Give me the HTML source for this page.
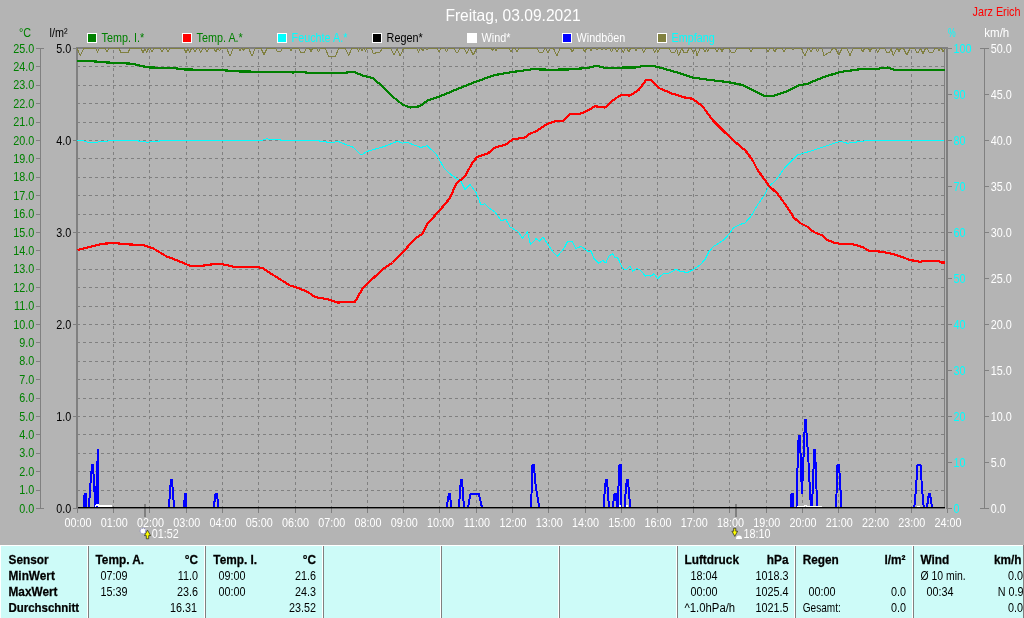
<!DOCTYPE html>
<html lang="de"><head><meta charset="utf-8"><title>Freitag, 03.09.2021</title>
<style>html,body{margin:0;padding:0;background:#b4b4b4;overflow:hidden}svg{display:block}
text{font-family:"Liberation Sans",Arial,sans-serif}
.b{font-weight:bold;letter-spacing:0.35px}.e{text-anchor:end}.m{text-anchor:middle}
.g{fill:#008000}.c{fill:#00ffff}.w{fill:#fff}.k{fill:#000}
</style></head><body>
<svg width="1024" height="618" viewBox="0 0 1024 618">
<rect width="1024" height="618" fill="#b4b4b4"/>
<g shape-rendering="crispEdges" stroke="#808080" stroke-width="1" stroke-dasharray="3 3">
<line x1="77" y1="66.5" x2="945" y2="66.5"/>
<line x1="77" y1="85.5" x2="945" y2="85.5"/>
<line x1="77" y1="103.5" x2="945" y2="103.5"/>
<line x1="77" y1="122.5" x2="945" y2="122.5"/>
<line x1="77" y1="140.5" x2="945" y2="140.5"/>
<line x1="77" y1="158.5" x2="945" y2="158.5"/>
<line x1="77" y1="177.5" x2="945" y2="177.5"/>
<line x1="77" y1="195.5" x2="945" y2="195.5"/>
<line x1="77" y1="214.5" x2="945" y2="214.5"/>
<line x1="77" y1="232.5" x2="945" y2="232.5"/>
<line x1="77" y1="250.5" x2="945" y2="250.5"/>
<line x1="77" y1="269.5" x2="945" y2="269.5"/>
<line x1="77" y1="287.5" x2="945" y2="287.5"/>
<line x1="77" y1="306.5" x2="945" y2="306.5"/>
<line x1="77" y1="324.5" x2="945" y2="324.5"/>
<line x1="77" y1="342.5" x2="945" y2="342.5"/>
<line x1="77" y1="361.5" x2="945" y2="361.5"/>
<line x1="77" y1="379.5" x2="945" y2="379.5"/>
<line x1="77" y1="398.5" x2="945" y2="398.5"/>
<line x1="77" y1="416.5" x2="945" y2="416.5"/>
<line x1="77" y1="434.5" x2="945" y2="434.5"/>
<line x1="77" y1="453.5" x2="945" y2="453.5"/>
<line x1="77" y1="471.5" x2="945" y2="471.5"/>
<line x1="77" y1="490.5" x2="945" y2="490.5"/>
<line x1="113.5" y1="48" x2="113.5" y2="507" stroke-dashoffset="4"/>
<line x1="149.5" y1="48" x2="149.5" y2="507" stroke-dashoffset="4"/>
<line x1="186.5" y1="48" x2="186.5" y2="507" stroke-dashoffset="4"/>
<line x1="222.5" y1="48" x2="222.5" y2="507" stroke-dashoffset="4"/>
<line x1="258.5" y1="48" x2="258.5" y2="507" stroke-dashoffset="4"/>
<line x1="295.5" y1="48" x2="295.5" y2="507" stroke-dashoffset="4"/>
<line x1="331.5" y1="48" x2="331.5" y2="507" stroke-dashoffset="4"/>
<line x1="367.5" y1="48" x2="367.5" y2="507" stroke-dashoffset="4"/>
<line x1="403.5" y1="48" x2="403.5" y2="507" stroke-dashoffset="4"/>
<line x1="439.5" y1="48" x2="439.5" y2="507" stroke-dashoffset="4"/>
<line x1="476.5" y1="48" x2="476.5" y2="507" stroke-dashoffset="4"/>
<line x1="512.5" y1="48" x2="512.5" y2="507" stroke-dashoffset="4"/>
<line x1="548.5" y1="48" x2="548.5" y2="507" stroke-dashoffset="4"/>
<line x1="585.5" y1="48" x2="585.5" y2="507" stroke-dashoffset="4"/>
<line x1="621.5" y1="48" x2="621.5" y2="507" stroke-dashoffset="4"/>
<line x1="657.5" y1="48" x2="657.5" y2="507" stroke-dashoffset="4"/>
<line x1="693.5" y1="48" x2="693.5" y2="507" stroke-dashoffset="4"/>
<line x1="729.5" y1="48" x2="729.5" y2="507" stroke-dashoffset="4"/>
<line x1="766.5" y1="48" x2="766.5" y2="507" stroke-dashoffset="4"/>
<line x1="802.5" y1="48" x2="802.5" y2="507" stroke-dashoffset="4"/>
<line x1="838.5" y1="48" x2="838.5" y2="507" stroke-dashoffset="4"/>
<line x1="875.5" y1="48" x2="875.5" y2="507" stroke-dashoffset="4"/>
<line x1="911.5" y1="48" x2="911.5" y2="507" stroke-dashoffset="4"/>
</g>
<g shape-rendering="crispEdges" fill="#808080">
<rect x="76" y="47" width="2" height="461"/>
<rect x="76" y="47" width="870" height="2"/>
<rect x="944" y="47" width="1" height="461"/>
<rect x="946" y="47" width="2" height="462"/>
<rect x="40" y="48" width="1" height="461"/>
<rect x="984" y="48" width="1" height="461"/>
<rect x="36" y="48" width="8" height="1"/>
<rect x="36" y="66" width="4" height="1"/>
<rect x="36" y="85" width="4" height="1"/>
<rect x="36" y="103" width="4" height="1"/>
<rect x="36" y="122" width="4" height="1"/>
<rect x="36" y="140" width="4" height="1"/>
<rect x="36" y="158" width="4" height="1"/>
<rect x="36" y="177" width="4" height="1"/>
<rect x="36" y="195" width="4" height="1"/>
<rect x="36" y="214" width="4" height="1"/>
<rect x="36" y="232" width="4" height="1"/>
<rect x="36" y="250" width="4" height="1"/>
<rect x="36" y="269" width="4" height="1"/>
<rect x="36" y="287" width="4" height="1"/>
<rect x="36" y="306" width="4" height="1"/>
<rect x="36" y="324" width="4" height="1"/>
<rect x="36" y="342" width="4" height="1"/>
<rect x="36" y="361" width="4" height="1"/>
<rect x="36" y="379" width="4" height="1"/>
<rect x="36" y="398" width="4" height="1"/>
<rect x="36" y="416" width="4" height="1"/>
<rect x="36" y="434" width="4" height="1"/>
<rect x="36" y="453" width="4" height="1"/>
<rect x="36" y="471" width="4" height="1"/>
<rect x="36" y="490" width="4" height="1"/>
<rect x="36" y="508" width="8" height="1"/>
<rect x="73" y="48" width="4" height="1"/>
<rect x="73" y="140" width="4" height="1"/>
<rect x="73" y="232" width="4" height="1"/>
<rect x="73" y="324" width="4" height="1"/>
<rect x="73" y="416" width="4" height="1"/>
<rect x="73" y="508" width="4" height="1"/>
<rect x="948" y="48" width="4" height="1"/>
<rect x="980" y="48" width="9" height="1"/>
<rect x="948" y="94" width="4" height="1"/>
<rect x="985" y="94" width="4" height="1"/>
<rect x="948" y="140" width="4" height="1"/>
<rect x="985" y="140" width="4" height="1"/>
<rect x="948" y="186" width="4" height="1"/>
<rect x="985" y="186" width="4" height="1"/>
<rect x="948" y="232" width="4" height="1"/>
<rect x="985" y="232" width="4" height="1"/>
<rect x="948" y="278" width="4" height="1"/>
<rect x="985" y="278" width="4" height="1"/>
<rect x="948" y="324" width="4" height="1"/>
<rect x="985" y="324" width="4" height="1"/>
<rect x="948" y="370" width="4" height="1"/>
<rect x="985" y="370" width="4" height="1"/>
<rect x="948" y="416" width="4" height="1"/>
<rect x="985" y="416" width="4" height="1"/>
<rect x="948" y="462" width="4" height="1"/>
<rect x="985" y="462" width="4" height="1"/>
<rect x="948" y="508" width="4" height="1"/>
<rect x="980" y="508" width="9" height="1"/>
<rect x="77" y="508" width="1" height="5"/>
<rect x="113" y="508" width="1" height="5"/>
<rect x="149" y="508" width="1" height="5"/>
<rect x="186" y="508" width="1" height="5"/>
<rect x="222" y="508" width="1" height="5"/>
<rect x="258" y="508" width="1" height="5"/>
<rect x="295" y="508" width="1" height="5"/>
<rect x="331" y="508" width="1" height="5"/>
<rect x="367" y="508" width="1" height="5"/>
<rect x="403" y="508" width="1" height="5"/>
<rect x="439" y="508" width="1" height="5"/>
<rect x="476" y="508" width="1" height="5"/>
<rect x="512" y="508" width="1" height="5"/>
<rect x="548" y="508" width="1" height="5"/>
<rect x="585" y="508" width="1" height="5"/>
<rect x="621" y="508" width="1" height="5"/>
<rect x="657" y="508" width="1" height="5"/>
<rect x="693" y="508" width="1" height="5"/>
<rect x="729" y="508" width="1" height="5"/>
<rect x="766" y="508" width="1" height="5"/>
<rect x="802" y="508" width="1" height="5"/>
<rect x="838" y="508" width="1" height="5"/>
<rect x="875" y="508" width="1" height="5"/>
<rect x="911" y="508" width="1" height="5"/>
<rect x="947" y="508" width="1" height="5"/>
<rect x="144" y="504" width="2" height="13"/>
<rect x="735" y="504" width="2" height="13"/>
</g>
<clipPath id="pc"><rect x="77" y="40" width="869" height="468"/></clipPath>
<g fill="none" stroke-linejoin="round" shape-rendering="crispEdges" clip-path="url(#pc)">
<polyline stroke="#808040" stroke-width="1" points="77.00,48.60 77.10,48.60 80.30,55.50 83.50,48.60 95.80,48.60 97.50,52.00 99.20,48.60 105.30,48.60 107.00,52.00 108.70,48.60 119.05,48.60 121.00,52.50 128.00,52.50 129.95,48.60 141.05,48.60 143.00,52.50 144.95,48.60 144.95,48.60 146.50,52.50 148.45,48.60 150.30,48.60 152.00,52.00 153.70,48.60 160.30,48.60 162.00,52.00 163.70,48.60 166.30,48.60 168.00,52.00 169.70,48.60 184.05,48.60 186.00,52.50 187.95,48.60 187.95,48.60 189.50,52.50 191.45,48.60 193.30,48.60 195.00,52.00 196.70,48.60 198.65,48.60 200.60,52.50 202.55,48.60 205.30,48.60 207.00,52.00 208.70,48.60 214.00,48.60 215.70,52.00 217.40,48.60 218.20,48.60 219.50,50.50 220.80,48.60 226.80,48.60 230.00,56.00 233.20,48.60 238.70,48.60 240.00,50.50 241.30,48.60 242.30,48.60 243.60,50.50 244.90,48.60 248.80,48.60 252.00,56.00 255.20,48.60 261.05,48.60 264.00,54.50 266.95,48.60 275.70,48.60 277.00,51.00 281.00,51.00 282.30,48.60 289.70,48.60 291.00,51.00 292.30,48.60 298.80,48.60 300.50,52.00 304.50,52.00 306.20,48.60 309.55,48.60 311.00,51.50 312.45,48.60 316.90,48.60 318.60,52.00 320.30,48.60 325.30,48.60 328.50,56.00 335.50,56.00 338.70,48.60 345.40,48.60 348.60,55.50 351.80,48.60 357.20,48.60 358.50,51.00 359.80,48.60 360.70,48.60 362.00,50.50 363.30,48.60 364.20,48.60 365.50,51.00 366.80,48.60 370.60,48.60 371.50,48.60 373.30,54.00 377.00,52.30 380.00,52.00 382.50,48.60 390.80,48.60 394.00,55.00 397.20,48.60 397.20,48.60 400.20,56.00 403.40,48.60 416.80,48.60 418.50,52.00 420.20,48.60 421.50,48.60 422.80,51.00 424.10,48.60 425.70,48.60 427.00,50.00 428.30,48.60 437.30,48.60 439.00,52.00 440.70,48.60 444.70,48.60 446.40,52.00 448.10,48.60 454.30,48.60 456.00,52.00 458.00,52.00 459.70,48.60 464.35,48.60 466.80,53.50 469.25,48.60 470.00,48.60 473.20,55.00 476.40,48.60 491.30,48.60 492.60,50.50 493.90,48.60 494.70,48.60 496.00,50.50 497.30,48.60 509.30,48.60 511.00,52.00 512.70,48.60 515.30,48.60 517.00,52.00 518.70,48.60 537.30,48.60 539.00,52.00 543.00,52.00 544.70,48.60 545.80,48.60 548.00,53.00 550.20,48.60 553.60,48.60 556.80,56.00 560.00,48.60 570.60,48.60 572.30,52.00 574.00,48.60 583.10,48.60 584.80,52.00 586.50,48.60 589.70,48.60 591.00,51.00 592.30,48.60 595.70,48.60 597.00,50.00 598.30,48.60 600.70,48.60 602.00,50.30 603.30,48.60 604.70,48.60 606.00,50.00 607.30,48.60 609.90,48.60 611.60,52.00 613.30,48.60 615.30,48.60 617.00,52.00 618.70,48.60 621.45,48.60 623.40,52.50 625.35,48.60 627.10,48.60 628.80,52.00 630.50,48.60 634.70,48.60 636.00,51.00 637.30,48.60 641.85,48.60 643.80,52.50 645.75,48.60 652.65,48.60 654.60,52.50 656.55,48.60 656.55,48.60 657.80,52.50 659.75,48.60 669.30,48.60 671.00,52.00 675.00,52.00 676.70,48.60 676.70,48.60 678.50,56.00 681.70,48.60 682.05,48.60 684.00,52.50 687.00,52.50 688.95,48.60 691.30,48.60 693.50,53.00 695.70,48.60 695.70,48.60 696.80,56.00 700.00,48.60 703.30,48.60 705.00,52.00 706.70,48.60 706.70,48.60 707.60,52.00 709.30,48.60 715.30,48.60 717.00,52.00 718.70,48.60 720.55,48.60 722.00,51.50 723.45,48.60 729.30,48.60 731.00,52.00 735.00,52.00 736.70,48.60 749.30,48.60 751.00,52.00 752.70,48.60 766.30,48.60 768.00,52.00 769.70,48.60 773.00,48.60 774.70,52.00 776.40,48.60 782.30,48.60 784.00,52.00 785.70,48.60 791.70,48.60 793.00,50.00 794.30,48.60 801.60,48.60 804.80,56.00 808.00,48.60 809.30,48.60 811.00,52.00 812.70,48.60 815.90,48.60 817.60,52.00 819.30,48.60 822.00,48.60 824.00,56.00 827.00,53.50 830.50,52.00 832.50,48.60 835.50,48.60 838.70,55.00 841.90,48.60 846.80,48.60 850.00,55.50 853.20,48.60 861.10,48.60 862.80,52.00 864.50,48.60 868.55,48.60 870.00,51.50 871.45,48.60 875.85,48.60 877.80,52.50 879.75,48.60 884.80,48.60 886.50,52.00 889.50,52.00 891.20,48.60 891.20,48.60 893.30,56.00 896.50,48.60 897.55,48.60 899.00,51.50 900.45,48.60 903.60,48.60 906.80,55.00 910.00,48.60 914.80,48.60 916.50,52.00 918.60,52.00 920.30,48.60 920.55,48.60 923.00,53.50 925.45,48.60 927.30,48.60 929.00,52.00 933.00,52.00 934.70,48.60 937.70,48.60 939.00,51.00 940.30,48.60 941.50,48.60 943.20,52.00 944.50,48.60 944.50,48.60"/>
<polyline stroke="#00ffff" stroke-width="1.05" points="77.00,140.50 83.00,140.50 88.00,142.50 95.00,143.00 100.00,141.50 104.00,142.00 108.00,141.00 115.00,140.50 137.00,140.50 141.00,142.00 144.00,141.00 147.00,142.50 151.00,141.50 160.00,141.00 165.00,140.50 262.00,140.50 267.00,138.50 270.00,140.00 278.00,139.50 283.00,140.50 318.00,140.50 322.00,142.00 324.00,141.50 331.00,143.00 337.50,141.25 353.75,147.50 361.25,155.00 367.50,151.25 385.00,146.25 397.50,141.25 402.50,143.25 406.00,142.00 421.00,147.50 427.00,145.75 436.00,153.75 443.75,167.50 450.00,173.75 456.00,178.25 461.00,181.25 465.00,189.50 470.00,184.50 476.00,192.50 481.00,205.00 485.00,203.75 488.75,208.00 495.00,212.00 501.00,220.50 506.00,219.50 510.00,227.00 517.50,231.25 522.50,238.00 527.50,232.00 530.50,244.50 536.00,238.75 539.50,241.25 543.00,237.00 552.50,251.25 557.50,256.25 563.75,248.75 567.50,241.75 572.50,241.75 575.75,248.75 581.00,246.25 588.75,252.00 591.00,250.75 593.75,258.00 598.75,263.25 603.00,260.50 605.75,263.00 608.75,256.25 612.50,253.75 615.00,258.00 617.50,257.50 622.50,268.00 626.00,270.00 630.00,266.25 632.50,271.25 637.00,268.25 641.00,270.75 645.50,276.25 648.75,275.00 651.00,276.25 654.00,273.75 657.50,278.75 663.75,273.25 668.75,273.25 676.00,269.25 680.00,271.25 687.50,272.50 692.50,270.00 700.00,265.00 705.00,259.50 708.75,252.00 713.75,246.25 723.75,240.00 730.00,233.00 733.75,227.50 740.00,224.50 745.00,223.00 751.00,216.25 757.50,205.00 763.75,196.25 768.75,186.25 775.00,181.25 785.00,167.50 797.50,155.00 810.00,151.25 825.00,146.25 840.00,141.25 847.50,143.25 867.50,140.50 944.00,140.50"/>
<polyline stroke="#008000" stroke-width="2.2" points="77.00,61.20 92.50,61.25 107.50,62.50 132.50,63.75 142.50,66.25 150.00,67.50 172.50,68.00 185.00,69.50 220.00,70.00 240.00,71.50 290.00,72.00 293.00,72.50 297.00,71.60 300.00,72.00 315.00,73.25 340.00,73.25 353.75,71.75 362.50,75.50 372.50,78.00 382.50,86.25 393.75,97.50 402.50,104.50 410.00,107.50 420.00,106.25 427.50,100.50 440.00,96.25 460.00,88.00 475.00,82.00 495.00,75.00 512.50,72.00 532.50,69.25 550.00,69.70 567.50,69.50 587.50,68.00 596.00,65.75 605.00,67.75 635.00,67.50 645.00,65.75 652.50,65.75 662.50,68.25 677.50,72.50 692.50,77.50 710.00,80.00 727.50,82.00 742.50,85.00 752.50,90.00 765.00,96.25 772.50,96.25 787.50,91.25 797.50,85.75 807.50,83.75 822.50,77.50 840.00,72.00 860.00,69.25 877.50,68.75 887.50,67.50 895.00,70.00 945.00,70.00"/>
<polyline stroke="#ff0000" stroke-width="2.2" points="77.50,250.00 90.00,247.00 102.50,243.75 113.75,243.00 130.00,244.50 142.50,245.00 152.50,248.00 166.25,256.25 177.50,260.50 190.00,265.75 202.50,265.75 212.50,264.25 222.50,264.25 233.75,266.75 255.00,266.75 262.50,268.00 270.00,273.00 290.00,285.50 300.00,288.75 307.50,291.75 315.00,297.00 327.50,299.25 337.50,302.50 355.00,301.75 362.50,288.75 370.00,281.25 382.50,269.50 392.50,262.50 402.50,252.50 415.00,238.75 422.50,233.75 427.50,223.75 440.00,210.00 450.00,198.00 455.00,186.25 457.50,182.50 465.00,176.25 472.50,162.50 477.50,156.75 487.50,153.75 495.00,147.50 506.00,144.50 512.50,139.50 525.00,137.50 530.00,133.75 536.00,131.25 547.50,123.75 555.00,121.25 562.50,121.25 570.00,113.75 580.00,113.75 587.50,110.75 595.00,106.25 605.00,107.50 615.00,98.75 621.00,95.00 630.00,95.50 638.75,90.00 646.00,80.00 651.00,80.00 658.75,88.00 672.50,93.75 685.00,97.50 692.50,98.75 702.50,106.25 712.50,120.00 725.00,132.50 740.00,146.25 745.00,150.00 752.50,160.00 757.50,170.00 765.00,180.00 768.75,185.50 777.50,193.75 787.50,207.50 793.75,217.50 800.00,223.00 807.50,226.75 813.75,232.00 822.50,235.50 827.50,240.00 833.75,242.50 840.00,243.75 852.50,244.25 862.50,247.00 868.75,250.75 877.50,251.25 890.00,253.25 900.00,256.25 910.00,260.00 920.00,261.75 925.00,260.75 937.50,260.75 941.25,262.50 945.00,262.50"/>
<polyline stroke="#0000ff" stroke-width="2" stroke-linejoin="miter" shape-rendering="crispEdges" points="83.60,507.50 84.60,494.00 86.20,494.00 86.30,507.50 88.60,507.50 89.60,497.00 90.30,486.00 91.20,475.00 92.00,465.00 93.00,465.00 93.80,479.00 94.60,493.60 95.20,507.50 95.80,507.50 96.40,489.00 97.20,468.50 98.00,450.30 98.40,450.30 98.50,507.50"/>
<polyline stroke="#0000ff" stroke-width="2" stroke-linejoin="miter" shape-rendering="crispEdges" points="168.75,507.50 170.00,494.00 170.75,480.40 172.00,480.40 173.00,494.00 174.25,507.50"/>
<polyline stroke="#0000ff" stroke-width="2" stroke-linejoin="miter" shape-rendering="crispEdges" points="184.00,507.50 185.00,494.00 186.20,494.00 186.20,507.50"/>
<polyline stroke="#0000ff" stroke-width="2" stroke-linejoin="miter" shape-rendering="crispEdges" points="213.75,507.50 215.50,494.00 217.00,494.00 218.50,507.50"/>
<polyline stroke="#0000ff" stroke-width="2" stroke-linejoin="miter" shape-rendering="crispEdges" points="446.75,507.50 448.75,494.00 450.00,494.00 451.25,507.50"/>
<polyline stroke="#0000ff" stroke-width="2" stroke-linejoin="miter" shape-rendering="crispEdges" points="458.75,507.50 460.00,494.00 460.75,480.40 462.00,480.40 463.00,494.00 464.00,507.50"/>
<polyline stroke="#0000ff" stroke-width="2" stroke-linejoin="miter" shape-rendering="crispEdges" points="468.00,507.50 470.50,494.00 478.75,494.00 482.00,507.50"/>
<polyline stroke="#0000ff" stroke-width="2" stroke-linejoin="miter" shape-rendering="crispEdges" points="530.50,507.50 531.50,494.00 532.50,465.00 534.00,465.00 535.00,480.40 537.00,494.00 539.25,507.50"/>
<polyline stroke="#0000ff" stroke-width="2" stroke-linejoin="miter" shape-rendering="crispEdges" points="603.75,507.50 604.50,494.00 605.75,480.40 607.00,480.40 608.00,494.00 609.00,507.50"/>
<polyline stroke="#0000ff" stroke-width="2" stroke-linejoin="miter" shape-rendering="crispEdges" points="612.50,507.50 614.50,494.00 616.00,494.00 617.00,507.50 617.50,507.50 618.50,486.00 619.50,465.00 621.25,465.00 621.50,507.50"/>
<polyline stroke="#0000ff" stroke-width="2" stroke-linejoin="miter" shape-rendering="crispEdges" points="624.50,507.50 625.50,494.00 626.75,480.40 628.00,480.40 629.00,494.00 630.50,507.50"/>
<polyline stroke="#0000ff" stroke-width="2" stroke-linejoin="miter" shape-rendering="crispEdges" points="790.75,507.50 791.50,494.00 793.00,494.00 793.25,507.50"/>
<polyline stroke="#0000ff" stroke-width="2" stroke-linejoin="miter" shape-rendering="crispEdges" points="796.60,507.50 797.00,484.00 797.80,459.00 798.70,435.60 800.00,435.60 800.70,459.00 801.20,474.00 802.00,494.00 803.00,469.50 803.80,450.30 805.00,420.40 806.00,420.40 806.80,440.00 808.00,451.00 808.90,471.00 810.20,494.00 811.00,507.50 812.30,507.50 812.60,488.00 813.50,469.50 814.00,450.30 815.20,450.30 815.70,469.50 816.50,489.00 817.00,507.50"/>
<polyline stroke="#0000ff" stroke-width="2" stroke-linejoin="miter" shape-rendering="crispEdges" points="835.75,507.50 836.50,494.00 837.50,465.00 839.00,465.00 840.00,480.40 840.75,494.00 841.25,507.50"/>
<polyline stroke="#0000ff" stroke-width="2" stroke-linejoin="miter" shape-rendering="crispEdges" points="914.25,507.50 915.50,494.00 916.50,480.40 917.50,465.00 920.50,465.00 921.50,480.40 922.50,494.00 923.75,507.50"/>
<polyline stroke="#0000ff" stroke-width="2" stroke-linejoin="miter" shape-rendering="crispEdges" points="927.00,507.50 928.75,494.00 930.00,494.00 932.00,507.50"/>
<polyline stroke="#ffffff" stroke-width="1.5" points="95.00,506.50 97.50,504.50 99.00,506.00 112.00,506.00"/>
<polyline stroke="#ffffff" stroke-width="1.5" points="619.00,506.00 621.00,506.00"/>
<polyline stroke="#ffffff" stroke-width="1.5" points="625.50,506.00 628.00,506.00"/>
<polyline stroke="#ffffff" stroke-width="1.5" points="797.00,506.50 804.00,506.50 805.50,505.50 807.00,506.50 821.60,506.50"/>
<polyline stroke="#ffffff" stroke-width="1.5" points="917.00,506.50 920.00,506.50"/>
</g>
<rect x="78" y="507" width="867" height="1" fill="#000" shape-rendering="crispEdges"/><rect x="78" y="508" width="867" height="1" fill="#000" fill-opacity="0.4" shape-rendering="crispEdges"/>
<text transform="translate(513.00,20.50) scale(0.945,1)" font-size="16.5" fill="#ffffff" text-anchor="middle">Freitag, 03.09.2021</text>
<text transform="translate(1020.50,16.00) scale(0.900,1)" font-size="12" fill="#ff0000" text-anchor="end">Jarz Erich</text>
<rect x="87" y="33" width="10" height="10" fill="#fff" shape-rendering="crispEdges"/><rect x="88" y="34" width="8" height="8" fill="#008000" shape-rendering="crispEdges"/>
<text transform="translate(101.60,42.00) scale(0.900,1)" font-size="12" fill="#008000">Temp. I.*</text>
<rect x="182" y="33" width="10" height="10" fill="#fff" shape-rendering="crispEdges"/><rect x="183" y="34" width="8" height="8" fill="#ff0000" shape-rendering="crispEdges"/>
<text transform="translate(196.60,42.00) scale(0.900,1)" font-size="12" fill="#008000">Temp. A.*</text>
<rect x="277" y="33" width="10" height="10" fill="#fff" shape-rendering="crispEdges"/><rect x="278" y="34" width="8" height="8" fill="#00ffff" shape-rendering="crispEdges"/>
<text transform="translate(291.60,42.00) scale(0.900,1)" font-size="12" fill="#00ffff">Feuchte A.*</text>
<rect x="372" y="33" width="10" height="10" fill="#fff" shape-rendering="crispEdges"/><rect x="373" y="34" width="8" height="8" fill="#000000" shape-rendering="crispEdges"/>
<text transform="translate(386.60,42.00) scale(0.900,1)" font-size="12" fill="#000000">Regen*</text>
<rect x="467" y="33" width="10" height="10" fill="#fff" shape-rendering="crispEdges"/><rect x="468" y="34" width="8" height="8" fill="#ffffff" shape-rendering="crispEdges"/>
<text transform="translate(481.60,42.00) scale(0.900,1)" font-size="12" fill="#ffffff">Wind*</text>
<rect x="562" y="33" width="10" height="10" fill="#fff" shape-rendering="crispEdges"/><rect x="563" y="34" width="8" height="8" fill="#0000ff" shape-rendering="crispEdges"/>
<text transform="translate(576.60,42.00) scale(0.900,1)" font-size="12" fill="#ffffff">Windböen</text>
<rect x="657" y="33" width="10" height="10" fill="#fff" shape-rendering="crispEdges"/><rect x="658" y="34" width="8" height="8" fill="#808040" shape-rendering="crispEdges"/>
<text transform="translate(671.60,42.00) scale(0.900,1)" font-size="12" fill="#00ffff">Empfang</text>
<text transform="translate(25.00,37.00) scale(0.900,1)" font-size="12" fill="#008000" text-anchor="middle">°C</text>
<text transform="translate(58.50,37.00) scale(0.900,1)" font-size="12" fill="#000000" text-anchor="middle">l/m²</text>
<text transform="translate(951.80,37.00) scale(0.720,1)" font-size="12" fill="#00ffff" text-anchor="middle">%</text>
<text transform="translate(996.80,37.00) scale(0.960,1)" font-size="12" fill="#ffffff" text-anchor="middle">km/h</text>
<text transform="translate(34.30,52.60) scale(0.900,1)" font-size="12" fill="#008000" text-anchor="end">25.0</text>
<text transform="translate(34.30,71.00) scale(0.900,1)" font-size="12" fill="#008000" text-anchor="end">24.0</text>
<text transform="translate(34.30,89.40) scale(0.900,1)" font-size="12" fill="#008000" text-anchor="end">23.0</text>
<text transform="translate(34.30,107.80) scale(0.900,1)" font-size="12" fill="#008000" text-anchor="end">22.0</text>
<text transform="translate(34.30,126.20) scale(0.900,1)" font-size="12" fill="#008000" text-anchor="end">21.0</text>
<text transform="translate(34.30,144.60) scale(0.900,1)" font-size="12" fill="#008000" text-anchor="end">20.0</text>
<text transform="translate(34.30,163.00) scale(0.900,1)" font-size="12" fill="#008000" text-anchor="end">19.0</text>
<text transform="translate(34.30,181.40) scale(0.900,1)" font-size="12" fill="#008000" text-anchor="end">18.0</text>
<text transform="translate(34.30,199.80) scale(0.900,1)" font-size="12" fill="#008000" text-anchor="end">17.0</text>
<text transform="translate(34.30,218.20) scale(0.900,1)" font-size="12" fill="#008000" text-anchor="end">16.0</text>
<text transform="translate(34.30,236.60) scale(0.900,1)" font-size="12" fill="#008000" text-anchor="end">15.0</text>
<text transform="translate(34.30,255.00) scale(0.900,1)" font-size="12" fill="#008000" text-anchor="end">14.0</text>
<text transform="translate(34.30,273.40) scale(0.900,1)" font-size="12" fill="#008000" text-anchor="end">13.0</text>
<text transform="translate(34.30,291.80) scale(0.900,1)" font-size="12" fill="#008000" text-anchor="end">12.0</text>
<text transform="translate(34.30,310.20) scale(0.900,1)" font-size="12" fill="#008000" text-anchor="end">11.0</text>
<text transform="translate(34.30,328.60) scale(0.900,1)" font-size="12" fill="#008000" text-anchor="end">10.0</text>
<text transform="translate(34.30,347.00) scale(0.900,1)" font-size="12" fill="#008000" text-anchor="end">9.0</text>
<text transform="translate(34.30,365.40) scale(0.900,1)" font-size="12" fill="#008000" text-anchor="end">8.0</text>
<text transform="translate(34.30,383.80) scale(0.900,1)" font-size="12" fill="#008000" text-anchor="end">7.0</text>
<text transform="translate(34.30,402.20) scale(0.900,1)" font-size="12" fill="#008000" text-anchor="end">6.0</text>
<text transform="translate(34.30,420.60) scale(0.900,1)" font-size="12" fill="#008000" text-anchor="end">5.0</text>
<text transform="translate(34.30,439.00) scale(0.900,1)" font-size="12" fill="#008000" text-anchor="end">4.0</text>
<text transform="translate(34.30,457.40) scale(0.900,1)" font-size="12" fill="#008000" text-anchor="end">3.0</text>
<text transform="translate(34.30,475.80) scale(0.900,1)" font-size="12" fill="#008000" text-anchor="end">2.0</text>
<text transform="translate(34.30,494.20) scale(0.900,1)" font-size="12" fill="#008000" text-anchor="end">1.0</text>
<text transform="translate(34.30,512.60) scale(0.900,1)" font-size="12" fill="#008000" text-anchor="end">0.0</text>
<text transform="translate(71.30,52.60) scale(0.900,1)" font-size="12" fill="#000000" text-anchor="end">5.0</text>
<text transform="translate(71.30,144.60) scale(0.900,1)" font-size="12" fill="#000000" text-anchor="end">4.0</text>
<text transform="translate(71.30,236.60) scale(0.900,1)" font-size="12" fill="#000000" text-anchor="end">3.0</text>
<text transform="translate(71.30,328.60) scale(0.900,1)" font-size="12" fill="#000000" text-anchor="end">2.0</text>
<text transform="translate(71.30,420.60) scale(0.900,1)" font-size="12" fill="#000000" text-anchor="end">1.0</text>
<text transform="translate(71.30,512.60) scale(0.900,1)" font-size="12" fill="#000000" text-anchor="end">0.0</text>
<text transform="translate(953.50,52.60) scale(0.900,1)" font-size="12" fill="#00ffff">100</text>
<text transform="translate(990.70,52.60) scale(0.900,1)" font-size="12" fill="#ffffff">50.0</text>
<text transform="translate(953.50,98.60) scale(0.900,1)" font-size="12" fill="#00ffff">90</text>
<text transform="translate(990.70,98.60) scale(0.900,1)" font-size="12" fill="#ffffff">45.0</text>
<text transform="translate(953.50,144.60) scale(0.900,1)" font-size="12" fill="#00ffff">80</text>
<text transform="translate(990.70,144.60) scale(0.900,1)" font-size="12" fill="#ffffff">40.0</text>
<text transform="translate(953.50,190.60) scale(0.900,1)" font-size="12" fill="#00ffff">70</text>
<text transform="translate(990.70,190.60) scale(0.900,1)" font-size="12" fill="#ffffff">35.0</text>
<text transform="translate(953.50,236.60) scale(0.900,1)" font-size="12" fill="#00ffff">60</text>
<text transform="translate(990.70,236.60) scale(0.900,1)" font-size="12" fill="#ffffff">30.0</text>
<text transform="translate(953.50,282.60) scale(0.900,1)" font-size="12" fill="#00ffff">50</text>
<text transform="translate(990.70,282.60) scale(0.900,1)" font-size="12" fill="#ffffff">25.0</text>
<text transform="translate(953.50,328.60) scale(0.900,1)" font-size="12" fill="#00ffff">40</text>
<text transform="translate(990.70,328.60) scale(0.900,1)" font-size="12" fill="#ffffff">20.0</text>
<text transform="translate(953.50,374.60) scale(0.900,1)" font-size="12" fill="#00ffff">30</text>
<text transform="translate(990.70,374.60) scale(0.900,1)" font-size="12" fill="#ffffff">15.0</text>
<text transform="translate(953.50,420.60) scale(0.900,1)" font-size="12" fill="#00ffff">20</text>
<text transform="translate(990.70,420.60) scale(0.900,1)" font-size="12" fill="#ffffff">10.0</text>
<text transform="translate(953.50,466.60) scale(0.900,1)" font-size="12" fill="#00ffff">10</text>
<text transform="translate(990.70,466.60) scale(0.900,1)" font-size="12" fill="#ffffff">5.0</text>
<text transform="translate(953.50,512.60) scale(0.900,1)" font-size="12" fill="#00ffff">0</text>
<text transform="translate(990.70,512.60) scale(0.900,1)" font-size="12" fill="#ffffff">0.0</text>
<text transform="translate(78.10,527.00) scale(0.900,1)" font-size="12" fill="#ffffff" text-anchor="middle">00:00</text>
<text transform="translate(114.35,527.00) scale(0.900,1)" font-size="12" fill="#ffffff" text-anchor="middle">01:00</text>
<text transform="translate(150.60,527.00) scale(0.900,1)" font-size="12" fill="#ffffff" text-anchor="middle">02:00</text>
<text transform="translate(186.85,527.00) scale(0.900,1)" font-size="12" fill="#ffffff" text-anchor="middle">03:00</text>
<text transform="translate(223.10,527.00) scale(0.900,1)" font-size="12" fill="#ffffff" text-anchor="middle">04:00</text>
<text transform="translate(259.35,527.00) scale(0.900,1)" font-size="12" fill="#ffffff" text-anchor="middle">05:00</text>
<text transform="translate(295.60,527.00) scale(0.900,1)" font-size="12" fill="#ffffff" text-anchor="middle">06:00</text>
<text transform="translate(331.85,527.00) scale(0.900,1)" font-size="12" fill="#ffffff" text-anchor="middle">07:00</text>
<text transform="translate(368.10,527.00) scale(0.900,1)" font-size="12" fill="#ffffff" text-anchor="middle">08:00</text>
<text transform="translate(404.35,527.00) scale(0.900,1)" font-size="12" fill="#ffffff" text-anchor="middle">09:00</text>
<text transform="translate(440.60,527.00) scale(0.900,1)" font-size="12" fill="#ffffff" text-anchor="middle">10:00</text>
<text transform="translate(476.85,527.00) scale(0.900,1)" font-size="12" fill="#ffffff" text-anchor="middle">11:00</text>
<text transform="translate(513.10,527.00) scale(0.900,1)" font-size="12" fill="#ffffff" text-anchor="middle">12:00</text>
<text transform="translate(549.35,527.00) scale(0.900,1)" font-size="12" fill="#ffffff" text-anchor="middle">13:00</text>
<text transform="translate(585.60,527.00) scale(0.900,1)" font-size="12" fill="#ffffff" text-anchor="middle">14:00</text>
<text transform="translate(621.85,527.00) scale(0.900,1)" font-size="12" fill="#ffffff" text-anchor="middle">15:00</text>
<text transform="translate(658.10,527.00) scale(0.900,1)" font-size="12" fill="#ffffff" text-anchor="middle">16:00</text>
<text transform="translate(694.35,527.00) scale(0.900,1)" font-size="12" fill="#ffffff" text-anchor="middle">17:00</text>
<text transform="translate(730.60,527.00) scale(0.900,1)" font-size="12" fill="#ffffff" text-anchor="middle">18:00</text>
<text transform="translate(766.85,527.00) scale(0.900,1)" font-size="12" fill="#ffffff" text-anchor="middle">19:00</text>
<text transform="translate(803.10,527.00) scale(0.900,1)" font-size="12" fill="#ffffff" text-anchor="middle">20:00</text>
<text transform="translate(839.35,527.00) scale(0.900,1)" font-size="12" fill="#ffffff" text-anchor="middle">21:00</text>
<text transform="translate(875.60,527.00) scale(0.900,1)" font-size="12" fill="#ffffff" text-anchor="middle">22:00</text>
<text transform="translate(911.85,527.00) scale(0.900,1)" font-size="12" fill="#ffffff" text-anchor="middle">23:00</text>
<text transform="translate(948.10,527.00) scale(0.900,1)" font-size="12" fill="#ffffff" text-anchor="middle">24:00</text>
<text transform="translate(151.70,538.00) scale(0.900,1)" font-size="12" fill="#ffffff">01:52</text>
<text transform="translate(743.50,538.00) scale(0.900,1)" font-size="12" fill="#ffffff">18:10</text>
<circle cx="143" cy="531" r="2.8" fill="#fff" stroke="#4040c0" stroke-width="0.7" stroke-dasharray="1 1"/>
<path d="M147.5 530.2 L150.6 535.6 L148.7 535.6 L148.7 538.8 L146.3 538.8 L146.3 535.6 L144.5 535.6 Z" fill="#ffff00" stroke="#202020" stroke-width="0.7"/>
<path d="M733.7 528.2 L735.8 528.2 L735.8 531.2 L737.6 531.2 L734.8 536.4 L731.9 531.2 L733.7 531.2 Z" fill="#ffff00" stroke="#202020" stroke-width="0.7"/>
<path d="M736 539 A3 3.4 0 0 1 742 539 Z" fill="#fff"/>
<g shape-rendering="crispEdges">
<rect x="0" y="545" width="1024" height="1" fill="#fff"/>
<rect x="0" y="546" width="1" height="72" fill="#fff"/>
<rect x="1" y="546" width="1022" height="72" fill="#cdfbf8"/>
<rect x="1023" y="545" width="1" height="73" fill="#808080"/>
<rect x="87" y="546" width="1" height="72" fill="#fff"/><rect x="88" y="546" width="1" height="72" fill="#808080"/>
<rect x="204" y="546" width="1" height="72" fill="#fff"/><rect x="205" y="546" width="1" height="72" fill="#808080"/>
<rect x="322" y="546" width="1" height="72" fill="#fff"/><rect x="323" y="546" width="1" height="72" fill="#808080"/>
<rect x="440" y="546" width="1" height="72" fill="#fff"/><rect x="441" y="546" width="1" height="72" fill="#808080"/>
<rect x="558" y="546" width="1" height="72" fill="#fff"/><rect x="559" y="546" width="1" height="72" fill="#808080"/>
<rect x="676" y="546" width="1" height="72" fill="#fff"/><rect x="677" y="546" width="1" height="72" fill="#808080"/>
<rect x="794" y="546" width="1" height="72" fill="#fff"/><rect x="795" y="546" width="1" height="72" fill="#808080"/>
<rect x="912" y="546" width="1" height="72" fill="#fff"/><rect x="913" y="546" width="1" height="72" fill="#808080"/>
</g>
<text transform="translate(8.50,564.00) scale(0.985,1)" font-size="12" fill="#000000" font-weight="bold" stroke="#000000" stroke-width="0.25">Sensor</text>
<text transform="translate(8.50,580.00) scale(0.985,1)" font-size="12" fill="#000000" font-weight="bold" stroke="#000000" stroke-width="0.25">MinWert</text>
<text transform="translate(8.50,596.00) scale(0.985,1)" font-size="12" fill="#000000" font-weight="bold" stroke="#000000" stroke-width="0.25">MaxWert</text>
<text transform="translate(8.50,612.00) scale(0.955,1)" font-size="12" fill="#000000" font-weight="bold" stroke="#000000" stroke-width="0.25">Durchschnitt</text>
<text transform="translate(95.50,564.00) scale(0.985,1)" font-size="12" fill="#000000" font-weight="bold" stroke="#000000" stroke-width="0.25">Temp. A.</text>
<text transform="translate(198.00,564.00) scale(0.985,1)" font-size="12" fill="#000000" text-anchor="end" font-weight="bold" stroke="#000000" stroke-width="0.25">°C</text>
<text transform="translate(100.50,580.00) scale(0.900,1)" font-size="12" fill="#000000">07:09</text>
<text transform="translate(198.00,580.00) scale(0.900,1)" font-size="12" fill="#000000" text-anchor="end">11.0</text>
<text transform="translate(100.50,596.00) scale(0.900,1)" font-size="12" fill="#000000">15:39</text>
<text transform="translate(198.00,596.00) scale(0.900,1)" font-size="12" fill="#000000" text-anchor="end">23.6</text>
<text transform="translate(197.00,612.00) scale(0.900,1)" font-size="12" fill="#000000" text-anchor="end">16.31</text>
<text transform="translate(213.30,564.00) scale(0.985,1)" font-size="12" fill="#000000" font-weight="bold" stroke="#000000" stroke-width="0.25">Temp. I.</text>
<text transform="translate(316.00,564.00) scale(0.985,1)" font-size="12" fill="#000000" text-anchor="end" font-weight="bold" stroke="#000000" stroke-width="0.25">°C</text>
<text transform="translate(218.50,580.00) scale(0.900,1)" font-size="12" fill="#000000">09:00</text>
<text transform="translate(316.00,580.00) scale(0.900,1)" font-size="12" fill="#000000" text-anchor="end">21.6</text>
<text transform="translate(218.50,596.00) scale(0.900,1)" font-size="12" fill="#000000">00:00</text>
<text transform="translate(316.00,596.00) scale(0.900,1)" font-size="12" fill="#000000" text-anchor="end">24.3</text>
<text transform="translate(316.00,612.00) scale(0.900,1)" font-size="12" fill="#000000" text-anchor="end">23.52</text>
<text transform="translate(684.50,564.00) scale(0.985,1)" font-size="12" fill="#000000" font-weight="bold" stroke="#000000" stroke-width="0.25">Luftdruck</text>
<text transform="translate(788.50,564.00) scale(0.985,1)" font-size="12" fill="#000000" text-anchor="end" font-weight="bold" stroke="#000000" stroke-width="0.25">hPa</text>
<text transform="translate(690.50,580.00) scale(0.900,1)" font-size="12" fill="#000000">18:04</text>
<text transform="translate(788.50,580.00) scale(0.900,1)" font-size="12" fill="#000000" text-anchor="end">1018.3</text>
<text transform="translate(690.50,596.00) scale(0.900,1)" font-size="12" fill="#000000">00:00</text>
<text transform="translate(788.50,596.00) scale(0.900,1)" font-size="12" fill="#000000" text-anchor="end">1025.4</text>
<text transform="translate(684.50,612.00) scale(0.945,1)" font-size="12" fill="#000000">^1.0hPa/h</text>
<text transform="translate(788.50,612.00) scale(0.900,1)" font-size="12" fill="#000000" text-anchor="end">1021.5</text>
<text transform="translate(802.70,564.00) scale(0.985,1)" font-size="12" fill="#000000" font-weight="bold" stroke="#000000" stroke-width="0.25">Regen</text>
<text transform="translate(905.50,564.00) scale(0.985,1)" font-size="12" fill="#000000" text-anchor="end" font-weight="bold" stroke="#000000" stroke-width="0.25">l/m²</text>
<text transform="translate(808.50,596.00) scale(0.900,1)" font-size="12" fill="#000000">00:00</text>
<text transform="translate(906.00,596.00) scale(0.900,1)" font-size="12" fill="#000000" text-anchor="end">0.0</text>
<text transform="translate(802.70,612.00) scale(0.840,1)" font-size="12" fill="#000000">Gesamt:</text>
<text transform="translate(906.00,612.00) scale(0.900,1)" font-size="12" fill="#000000" text-anchor="end">0.0</text>
<text transform="translate(920.50,564.00) scale(0.985,1)" font-size="12" fill="#000000" font-weight="bold" stroke="#000000" stroke-width="0.25">Wind</text>
<text transform="translate(1021.50,564.00) scale(0.985,1)" font-size="12" fill="#000000" text-anchor="end" font-weight="bold" stroke="#000000" stroke-width="0.25">km/h</text>
<text transform="translate(920.50,580.00) scale(0.870,1)" font-size="12" fill="#000000">Ø 10 min.</text>
<text transform="translate(1023.00,580.00) scale(0.900,1)" font-size="12" fill="#000000" text-anchor="end">0.0</text>
<text transform="translate(926.50,596.00) scale(0.900,1)" font-size="12" fill="#000000">00:34</text>
<text transform="translate(1023.50,596.00) scale(0.900,1)" font-size="12" fill="#000000" text-anchor="end">N 0.9</text>
<text transform="translate(1023.00,612.00) scale(0.900,1)" font-size="12" fill="#000000" text-anchor="end">0.0</text>
</svg></body></html>
